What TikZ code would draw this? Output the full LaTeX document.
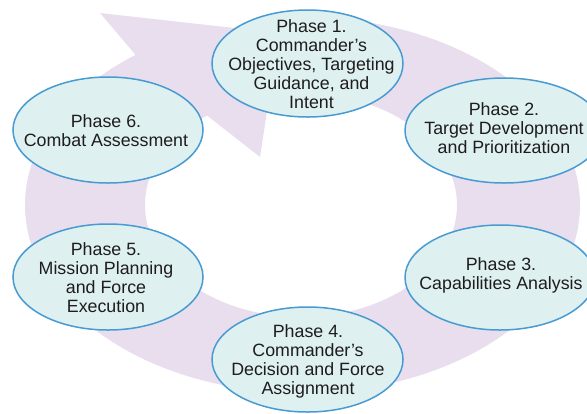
\documentclass[tikz,border=0pt]{standalone}
\usepackage{fontspec}
\setmainfont{Liberation Sans}
\usetikzlibrary{shapes.geometric}
\definecolor{ringfill}{RGB}{233,222,237}
\definecolor{phasefill}{RGB}{222,240,239}
\definecolor{phaseline}{RGB}{72,155,210}
\definecolor{phaseink}{RGB}{30,28,30}
% uniform line strut: 15bp above, 4bp below the baseline
\newcommand\phln{\rule[-4bp]{0pt}{19bp}}
\begin{document}
\begin{tikzpicture}[x=1bp,y=-1bp,
  phase/.style={ellipse, draw=phaseline, line width=1.5bp, fill=phasefill, inner sep=0pt, outer sep=0pt},
  phasetext/.style={align=center, text=phaseink, inner sep=0pt,
    font=\fontsize{17.8bp}{19bp}\selectfont}]
\useasboundingbox (0,0) rectangle (587,413);
\clip (0,0) rectangle (587,413);

% circular arrow running clockwise round the cycle
\fill[ringfill]
  plot[domain=-85:233, samples=180] ({302.5+277.5*cos(\x)},{205+188*sin(\x)})
  -- (100,13) -- (279,33) -- (260,157)
  -- plot[domain=233:-85, samples=180] ({301+156*cos(\x)},{205+112*sin(\x)})
  -- cycle;

% phase ellipses
\node[phase, minimum width=191bp, minimum height=107bp] (p1) at (307.5,63.5) {};
\node[phase, minimum width=198bp, minimum height=105bp] (p2) at (504,130.5) {};
\node[phase, minimum width=190bp, minimum height=105bp] (p3) at (500,277.5) {};
\node[phase, minimum width=191bp, minimum height=105bp] (p4) at (307.5,359.5) {};
\node[phase, minimum width=190bp, minimum height=106bp] (p5) at (108,277) {};
\node[phase, minimum width=190bp, minimum height=106bp] (p6) at (108,130) {};

% phase labels
\node[phasetext] (t1) at (311.5,64.5) {\phln Phase 1.\\\phln Commander’s\\\phln Objectives, Targeting\\\phln Guidance, and\\\phln Intent};
\node[phasetext] (t2) at (504,129) {\phln Phase 2.\\\phln Target Development\\\phln and Prioritization};
\node[phasetext] (t3) at (501,274) {\phln Phase 3.\\\phln Capabilities Analysis};
\node[phasetext] (t4) at (308,360) {\phln Phase 4.\\\phln Commander’s\\\phln Decision and Force\\\phln Assignment};
\node[phasetext] (t5) at (106,278.3) {\phln Phase 5.\\\phln Mission Planning\\\phln and Force\\\phln Execution};
\node[phasetext] (t6) at (106,131.5) {\phln Phase 6.\\\phln Combat Assessment};
\end{tikzpicture}
\end{document}
